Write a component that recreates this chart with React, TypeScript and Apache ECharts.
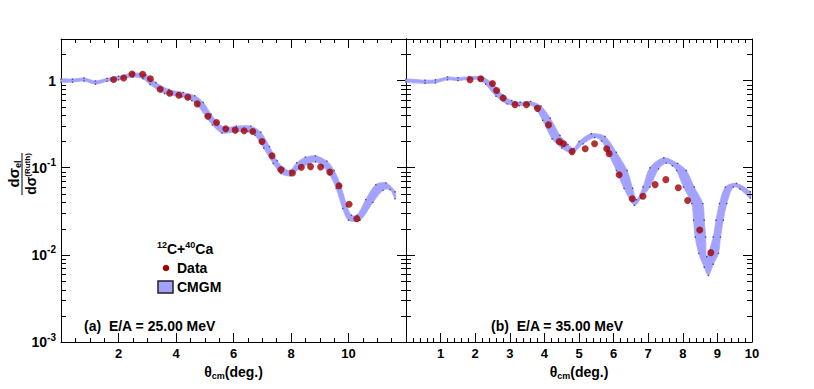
import { useEffect, useRef } from 'react';
import * as echarts from 'echarts';

const FONT = '"Liberation Sans", Arial, Helvetica, sans-serif';
const BAND = '#a3a3ff';
const DOT = '#a00000';

// ---- panel (a): E/A = 25 MeV ----
const leftDataTheta = [1.83, 2.18, 2.47, 2.84, 3.11, 3.45, 3.78, 4.1, 4.41, 4.74, 5.11, 5.41, 5.73, 6.06, 6.37, 6.67, 6.99, 7.34, 7.65, 8.05, 8.36, 8.68, 9.03, 9.35, 9.67, 10.02, 10.29];
const leftDataValue = [1.03, 1.07, 1.19, 1.18, 1.05, 0.795, 0.715, 0.68, 0.645, 0.54, 0.39, 0.33, 0.28, 0.27, 0.265, 0.26, 0.2, 0.137, 0.095, 0.087, 0.101, 0.103, 0.102, 0.089, 0.062, 0.038, 0.026];

const leftUpperTheta = [0.0, 0.4, 0.8, 1.2, 1.6, 2.0, 2.5, 2.95, 3.3, 3.75, 4.25, 4.65, 4.95, 5.22, 5.45, 5.7, 6.1, 6.6, 6.95, 7.25, 7.52, 7.75, 7.97, 8.2, 8.5, 8.85, 9.25, 9.5, 9.73, 9.95, 10.1, 10.3, 10.6, 10.95, 11.3, 11.62];
const leftUpperValue = [1.04, 1.04, 1.07, 0.99, 1.06, 1.12, 1.22, 1.17, 0.95, 0.79, 0.73, 0.67, 0.56, 0.41, 0.33, 0.29, 0.3, 0.3, 0.255, 0.175, 0.12, 0.099, 0.093, 0.114, 0.132, 0.137, 0.119, 0.093, 0.062, 0.036, 0.0285, 0.0285, 0.043, 0.064, 0.067, 0.053];
const leftLowerTheta = [0.0, 0.4, 0.8, 1.2, 1.6, 2.0, 2.5, 2.85, 3.1, 3.6, 4.2, 4.55, 4.75, 5.03, 5.27, 5.6, 6.1, 6.5, 6.75, 7.05, 7.38, 7.65, 7.97, 8.3, 8.6, 8.85, 9.1, 9.33, 9.57, 9.8, 10.0, 10.4, 10.85, 11.2, 11.45, 11.62];
const leftLowerValue = [0.96, 0.96, 0.99, 0.91, 0.98, 1.02, 1.1, 1.05, 0.9, 0.71, 0.65, 0.59, 0.52, 0.39, 0.31, 0.25, 0.26, 0.26, 0.235, 0.168, 0.112, 0.086, 0.081, 0.098, 0.11, 0.117, 0.104, 0.085, 0.058, 0.034, 0.025, 0.025, 0.04, 0.055, 0.056, 0.044];

// ---- panel (b): E/A = 35 MeV ----
const rightDataTheta = [1.85, 2.16, 2.5, 2.62, 2.81, 3.15, 3.48, 3.8, 4.12, 4.43, 4.55, 4.8, 5.18, 5.45, 5.8, 5.87, 6.16, 6.54, 6.85, 7.2, 7.51, 7.87, 8.14, 8.49, 8.81];
const rightDataValue = [1.02, 1.05, 0.925, 0.77, 0.63, 0.53, 0.53, 0.48, 0.31, 0.2, 0.188, 0.153, 0.165, 0.188, 0.165, 0.145, 0.083, 0.044, 0.047, 0.064, 0.073, 0.059, 0.042, 0.0193, 0.0106];

const rightUpperTheta = [0, 0.55, 0.85, 1.2, 1.5, 1.82, 2.2, 2.5, 2.8, 3.05, 3.3, 3.6, 3.9, 4.17, 4.45, 4.68, 4.85, 5.0, 5.35, 5.75, 6.08, 6.39, 6.55, 6.66, 6.85, 7.05, 7.45, 7.85, 8.1, 8.33, 8.58, 8.62, 8.66, 8.69, 8.88, 8.96, 9.06, 9.23, 9.55, 9.95];
const rightUpperValue = [1.04, 1.01, 1.02, 1.1, 1.08, 1.11, 1.1, 0.93, 0.68, 0.59, 0.565, 0.575, 0.51, 0.37, 0.235, 0.185, 0.166, 0.2, 0.245, 0.228, 0.15, 0.093, 0.058, 0.043, 0.06, 0.1, 0.13, 0.112, 0.093, 0.06, 0.0387, 0.025, 0.016, 0.0095, 0.016, 0.025, 0.0387, 0.06, 0.066, 0.053];
const rightLowerTheta = [0, 0.55, 0.85, 1.2, 1.5, 1.82, 2.12, 2.3, 2.6, 2.92, 3.27, 3.56, 3.72, 3.95, 4.22, 4.5, 4.8, 5.12, 5.45, 5.65, 5.85, 6.08, 6.3, 6.6, 6.8, 7.05, 7.3, 7.52, 7.7, 7.82, 8.02, 8.26, 8.31, 8.36, 8.46, 8.62, 8.74, 8.88, 9.03, 9.09, 9.17, 9.27, 9.46, 9.65, 9.95];
const rightLowerValue = [0.96, 0.93, 0.94, 1.02, 1.0, 1.03, 1.02, 0.91, 0.66, 0.54, 0.515, 0.525, 0.49, 0.35, 0.215, 0.168, 0.147, 0.188, 0.222, 0.203, 0.145, 0.093, 0.058, 0.037, 0.045, 0.06, 0.097, 0.113, 0.105, 0.093, 0.06, 0.0387, 0.025, 0.016, 0.0104, 0.0072, 0.0058, 0.0078, 0.0104, 0.016, 0.025, 0.0387, 0.06, 0.057, 0.045];

// log-axis minor tick values (2..9 within each decade)
const logMinorTicks = [
  0.002, 0.003, 0.004, 0.005, 0.006, 0.007, 0.008, 0.009,
  0.02, 0.03, 0.04, 0.05, 0.06, 0.07, 0.08, 0.09,
  0.2, 0.3, 0.4, 0.5, 0.6, 0.7, 0.8, 0.9,
  2,
];

const xLeftHidden = [0, 12];
const xRightHidden = [0];

function pairs(t: number[], v: number[]) {
  return t.map((x, i) => [x, v[i]]);
}

function bandSeries(xi: number, yi: number, upT: number[], upV: number[], loT: number[], loV: number[]) {
  return {
    type: 'custom',
    xAxisIndex: xi,
    yAxisIndex: yi,
    silent: true,
    z: 2,
    data: [[upT[0], upV[0]]],
    renderItem: (params: any, api: any) => {
      const up: number[][] = [];
      const lo: number[][] = [];
      for (let i = 0; i < upT.length; i++) up.push(api.coord([upT[i], upV[i]]));
      for (let i = loT.length - 1; i >= 0; i--) lo.push(api.coord([loT[i], loV[i]]));
      return {
        type: 'group',
        children: [
          {
            type: 'polygon',
            shape: { points: up.concat(lo), smooth: 0.3 },
            style: { fill: BAND, stroke: BAND, lineWidth: 0.8 },
          },
        ],
      };
    },
  };
}

function minorTickSeries(xi: number, yi: number, xAt: number) {
  return {
    type: 'custom',
    xAxisIndex: xi,
    yAxisIndex: yi,
    silent: true,
    clip: false,
    z: 6,
    data: logMinorTicks.map((v) => [xAt, v]),
    renderItem: (params: any, api: any) => {
      const p = api.coord([api.value(0), api.value(1)]);
      const cs = params.coordSys;
      const y = Math.round(p[1]) + 0.5;
      return {
        type: 'group',
        children: [
          { type: 'line', shape: { x1: cs.x, y1: y, x2: cs.x + 5, y2: y }, style: { stroke: '#000', lineWidth: 1 } },
          { type: 'line', shape: { x1: cs.x + cs.width - 5, y1: y, x2: cs.x + cs.width, y2: y }, style: { stroke: '#000', lineWidth: 1 } },
        ],
      };
    },
  };
}

function edgeDots(xi: number, yi: number, data: number[][]) {
  return {
    type: 'scatter',
    xAxisIndex: xi,
    yAxisIndex: yi,
    silent: true,
    symbol: 'rect',
    symbolSize: 1.4,
    itemStyle: { color: '#333' },
    z: 3,
    data,
  };
}

function dataSeries(xi: number, yi: number, t: number[], v: number[]) {
  return {
    type: 'scatter',
    xAxisIndex: xi,
    yAxisIndex: yi,
    symbol: 'circle',
    symbolSize: 7,
    itemStyle: { color: DOT },
    z: 10,
    data: pairs(t, v),
  };
}

const axisLine = { show: true, onZero: false, lineStyle: { color: '#000', width: 1 } };
const tickStyle = { color: '#000', width: 1 };

const nameRich = {
  t: { fontFamily: FONT, fontWeight: 'bold', fontSize: 14, color: '#000' },
  c: { fontFamily: FONT, fontWeight: 'bold', fontSize: 9, color: '#000', padding: [9, 0, 0, 0] },
};

function xAxes(grid: number, max: number, interval: number, split: number, hidden: number[]) {
  return [
    {
      gridIndex: grid,
      type: 'value',
      min: 0,
      max,
      interval,
      position: 'bottom',
      axisLine,
      axisTick: { inside: true, length: 9, lineStyle: tickStyle },
      minorTick: { show: true, splitNumber: split, length: 4, lineStyle: tickStyle },
      splitLine: { show: false },
      axisLabel: {
        color: '#000',
        fontFamily: FONT,
        fontWeight: 'bold',
        fontSize: 13,
        margin: 5,
        formatter: (v: number) => (hidden.indexOf(v) >= 0 ? '' : String(v)),
      },
      name: '{t|θ}{c|cm}{t|(deg.)}',
      nameLocation: 'middle',
      nameGap: 20,
      nameTextStyle: { rich: nameRich },
    },
    {
      gridIndex: grid,
      type: 'value',
      min: 0,
      max,
      interval,
      position: 'top',
      axisLine,
      axisTick: { inside: true, length: 9, lineStyle: tickStyle },
      minorTick: { show: true, splitNumber: split, length: 4, lineStyle: tickStyle },
      splitLine: { show: false },
      axisLabel: { show: false },
    },
  ];
}

const yRich = {
  b: { fontFamily: FONT, fontWeight: 'bold', fontSize: 14, color: '#000' },
  s: { fontFamily: FONT, fontWeight: 'bold', fontSize: 10, color: '#000', padding: [0, 0, 10, 0] },
};

function yFormatter(v: number) {
  const l = Math.log10(v);
  const n = Math.round(l);
  if (Math.abs(l - n) > 1e-6) return '';
  if (n === 0) return '{b|1}';
  return '{b|10}{s|' + n + '}';
}

function yAxes(grid: number, showLeftLabels: boolean) {
  const base = {
    gridIndex: grid,
    type: 'log',
    logBase: 10,
    min: 0.001,
    max: 3,
    axisLine,
    axisTick: { inside: true, length: 9, lineStyle: tickStyle },
    splitLine: { show: false },
    minorTick: { show: false },
  };
  return [
    {
      ...base,
      position: 'left',
      axisLabel: showLeftLabels
        ? { show: true, margin: 5, formatter: yFormatter, rich: yRich, color: '#000' }
        : { show: false },
    },
    { ...base, position: 'right', axisLabel: { show: false } },
  ];
}

const boldText = (size: number) => ({ fontFamily: FONT, fontWeight: 'bold', fontSize: size, fill: '#000' });

export default function App() {
  const ref = useRef<HTMLDivElement>(null);

  useEffect(() => {
    if (!ref.current) return;
    const chart = echarts.init(ref.current, null, { renderer: 'svg' });

    const option: any = {
      animation: false,
      backgroundColor: '#fff',
      grid: [
        { left: 61, top: 39, width: 345, height: 303, containLabel: false },
        { left: 406, top: 39, width: 346, height: 303, containLabel: false },
      ],
      xAxis: [...xAxes(0, 12, 2, 4, xLeftHidden), ...xAxes(1, 10, 1, 5, xRightHidden)],
      yAxis: [...yAxes(0, true), ...yAxes(1, false)],
      series: [
        bandSeries(0, 0, leftUpperTheta, leftUpperValue, leftLowerTheta, leftLowerValue),
        edgeDots(0, 0, [...pairs(leftUpperTheta, leftUpperValue), ...pairs(leftLowerTheta, leftLowerValue)]),
        dataSeries(0, 0, leftDataTheta, leftDataValue),
        minorTickSeries(0, 0, 6),
        bandSeries(2, 2, rightUpperTheta, rightUpperValue, rightLowerTheta, rightLowerValue),
        edgeDots(2, 2, [...pairs(rightUpperTheta, rightUpperValue), ...pairs(rightLowerTheta, rightLowerValue)]),
        dataSeries(2, 2, rightDataTheta, rightDataValue),
        minorTickSeries(2, 2, 5),
      ],
      graphic: [
        {
          type: 'group',
          x: 22,
          y: 174,
          rotation: Math.PI / 2,
          children: [
            { type: 'line', shape: { x1: -21, y1: 0, x2: 21, y2: 0 }, style: { stroke: '#000', lineWidth: 1 } },
            {
              type: 'text',
              x: 0,
              y: 0,
              style: {
                text: '{m|dσ}{s|el}',
                align: 'center',
                verticalAlign: 'bottom',
                rich: {
                  m: { fontFamily: FONT, fontWeight: 'bold', fontSize: 15, fill: '#000' },
                  s: { fontFamily: FONT, fontWeight: 'bold', fontSize: 9, fill: '#000', padding: [8, 0, 0, 0] },
                },
              },
            },
            {
              type: 'text',
              x: 0,
              y: 1,
              style: {
                text: '{m|dσ}{s|(Ruth)}',
                align: 'center',
                verticalAlign: 'top',
                rich: {
                  m: { fontFamily: FONT, fontWeight: 'bold', fontSize: 14, fill: '#000' },
                  s: { fontFamily: FONT, fontWeight: 'bold', fontSize: 8, fill: '#000', padding: [0, 0, 7, 0] },
                },
              },
            },
          ],
        },
        {
          type: 'text',
          x: 157,
          y: 249,
          style: {
            text: '{s|12}{m|C+}{s|40}{m|Ca}',
            align: 'left',
            verticalAlign: 'middle',
            rich: {
              m: { fontFamily: FONT, fontWeight: 'bold', fontSize: 14, fill: '#000' },
              s: { fontFamily: FONT, fontWeight: 'bold', fontSize: 9, fill: '#000', padding: [0, 0, 9, 0] },
            },
          },
        },
        { type: 'circle', shape: { cx: 166, cy: 268, r: 3.3 }, style: { fill: DOT } },
        { type: 'text', x: 177, y: 268, style: { text: 'Data', ...boldText(14), align: 'left', verticalAlign: 'middle' } },
        { type: 'rect', shape: { x: 158, y: 281, width: 15, height: 12 }, style: { fill: BAND, stroke: '#222', lineWidth: 1.5 } },
        { type: 'text', x: 177, y: 287, style: { text: 'CMGM', ...boldText(14), align: 'left', verticalAlign: 'middle' } },
        { type: 'text', x: 84, y: 326, style: { text: '(a)  E/A = 25.00 MeV', ...boldText(14), align: 'left', verticalAlign: 'middle' } },
        { type: 'text', x: 491, y: 326, style: { text: '(b)  E/A = 35.00 MeV', ...boldText(14), align: 'left', verticalAlign: 'middle' } },
      ],
    };

    chart.setOption(option);
    return () => chart.dispose();
  }, []);

  return <div ref={ref} style={{ position: 'absolute', left: 0, top: 0, width: 814, height: 389 }} />;
}
